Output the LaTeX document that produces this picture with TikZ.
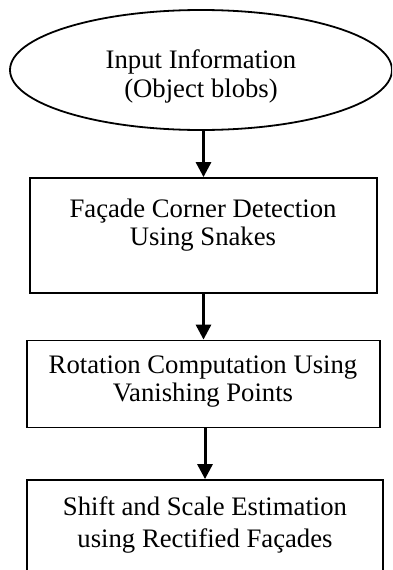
\documentclass[tikz,border=0pt]{standalone}
\usepackage{fontspec}
\setmainfont{Liberation Serif}
\usetikzlibrary{shapes.geometric,arrows.meta}
\begin{document}
\begin{tikzpicture}[x=1pt,y=-1pt,
  shapeline/.style={draw=black,line width=1.8pt,inner sep=0pt},
  txt/.style={font=\fontsize{26.7}{30}\selectfont,anchor=base,inner sep=0pt},
  flow/.style={line width=3pt,-{Triangle[length=15pt,width=15pt]}}]
\useasboundingbox (0,0) rectangle (392,570);
\clip (0,0) rectangle (392,570);
\node[shapeline,ellipse,minimum width=382pt,minimum height=120pt] (ell) at (201,70) {};
\node[shapeline,rectangle,minimum width=347pt,minimum height=115pt] (b1) at (203.5,235.5) {};
\node[shapeline,rectangle,minimum width=353pt,minimum height=87pt] (b2) at (203.5,384) {};
\node[shapeline,rectangle,minimum width=356pt,minimum height=140pt] (b3) at (205,550) {};
\node[txt] (t1a) at (201,68) {Input Information};
\node[txt] (t1b) at (201,97) {(Object blobs)};
\node[txt] (t2a) at (203,217) {Façade Corner Detection};
\node[txt] (t2b) at (203,245) {Using Snakes};
\node[txt] (t3a) at (203,373) {Rotation Computation Using};
\node[txt] (t3b) at (203,401) {Vanishing Points};
\node[txt] (t4a) at (205,515) {Shift and Scale Estimation};
\node[txt] (t4b) at (205,547) {using Rectified Façades};
\draw[flow] (ell.south -| b1.north) -- (b1.north);
\draw[flow] (b1.south) -- (b2.north);
\draw[flow] (b2.south -| b3.north) -- (b3.north);
\end{tikzpicture}
\end{document}
